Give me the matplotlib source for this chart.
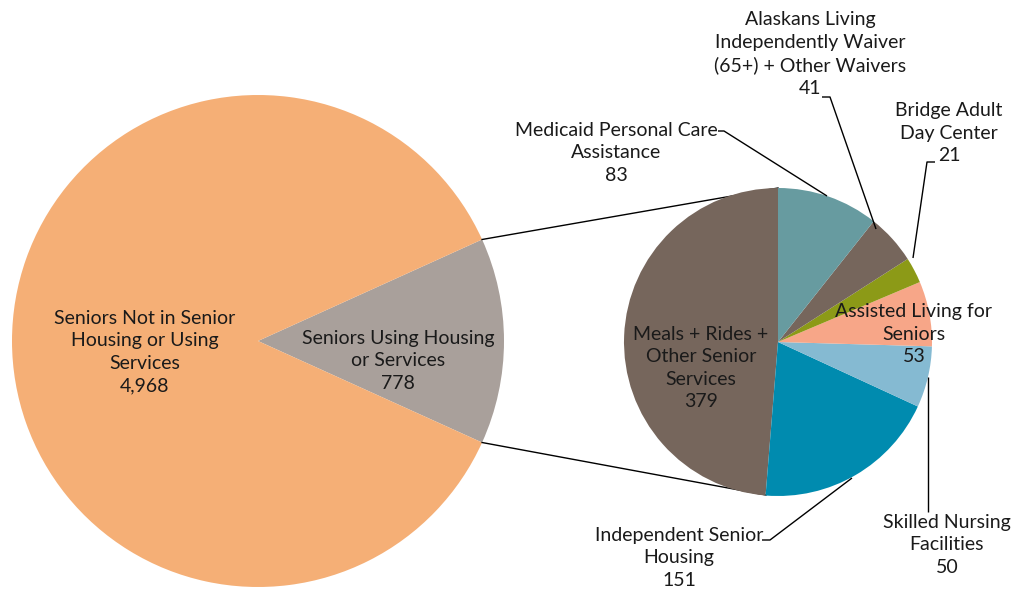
import matplotlib
matplotlib.use("Agg")
import matplotlib.pyplot as plt
import numpy as np

plt.rcParams['font.family'] = ['Lato', 'DejaVu Sans']

# Data
main_labels = ["Seniors Using Housing\nor Services", "Seniors Not in Senior\nHousing or Using\nServices"]
main_values = [778, 4968]
main_colors = ["#A9A09B", "#F5AF76"]

sub_labels = ["Meals + Rides +\nOther Senior\nServices", "Independent Senior\nHousing",
              "Skilled Nursing\nFacilities", "Assisted Living for\nSeniors",
              "Bridge Adult\nDay Center", "Alaskans Living\nIndependently Waiver\n(65+) + Other Waivers",
              "Medicaid Personal Care\nAssistance"]
sub_values = [379, 151, 50, 53, 21, 41, 83]
sub_colors = ["#76665C", "#008BAF", "#85BAD2", "#F7A688", "#8C9A17", "#76665C", "#679BA0"]

W, H = 1018, 590
fig = plt.figure(figsize=(W / 100, H / 100), dpi=100)
ax = fig.add_axes([0, 0, 1, 1])
ax.set_xlim(0, W)
ax.set_ylim(0, H)
ax.axis('off')

def Y(y):
    return H - y

c1 = (258, Y(341)); r1 = 246
c2 = (778, Y(342)); r2 = 154

half = 360 * main_values[0] / sum(main_values) / 2
ax.pie(main_values, colors=main_colors, center=c1, radius=r1, startangle=-half,
       counterclock=True, wedgeprops=dict(linewidth=0))
ax.pie(sub_values, colors=sub_colors, center=c2, radius=r2, startangle=90,
       counterclock=True, wedgeprops=dict(linewidth=0, zorder=3))
ax.set_xlim(0, W); ax.set_ylim(0, H); ax.set_aspect('auto')

# connector lines
a = np.deg2rad(half)
p_top = (c1[0] + r1 * np.cos(a), c1[1] + r1 * np.sin(a))
p_bot = (c1[0] + r1 * np.cos(a), c1[1] - r1 * np.sin(a))
ax.plot([p_top[0], c2[0]], [p_top[1], c2[1] + r2], color='black', lw=1, zorder=2)
ax.plot([p_bot[0], c2[0] - 12], [p_bot[1], c2[1] - r2 + 1], color='black', lw=1, zorder=2)

fs = 14
tc = '#1a1a1a'
ls = 1.38

def lab(x, y, s):
    ax.text(x, Y(y), s, ha='center', va='center', fontsize=fs, color=tc,
            linespacing=ls, zorder=5)

lab(145, 352, main_labels[1] + "\n4,968")
lab(398, 361, main_labels[0] + "\n778")
lab(701, 368, sub_labels[0] + "\n379")
lab(914, 334, sub_labels[3] + "\n53")
lab(616, 153, sub_labels[6] + "\n83")
lab(810, 54, sub_labels[5] + "\n41")
lab(949, 133, sub_labels[4] + "\n21")
lab(679, 558, sub_labels[1] + "\n151")
lab(947, 545, sub_labels[2] + "\n50")

def leader(pts):
    xs = [p[0] for p in pts]; ys = [Y(p[1]) for p in pts]
    ax.plot(xs, ys, color='black', lw=1, zorder=4, solid_capstyle='butt')

leader([(718, 131), (724, 131), (827, 196)])
leader([(822, 97), (830, 97), (876, 229)])
leader([(935, 162), (927, 162), (913, 258)])
leader([(762, 540), (770, 540), (852, 478)])
leader([(928, 377), (928, 512)])

fig.savefig("out.png", dpi=100)
